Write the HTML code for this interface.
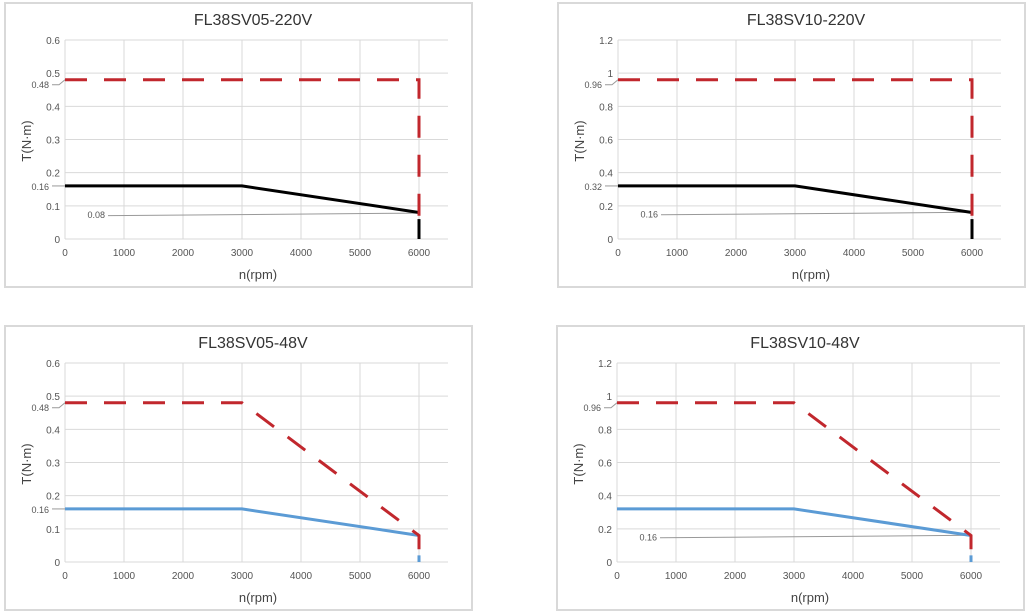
<!DOCTYPE html>
<html><head><meta charset="utf-8"><style>
html,body{margin:0;padding:0;background:#fff;width:1031px;height:614px;overflow:hidden}
svg{display:block;font-family:"Liberation Sans",sans-serif}
</style></head><body>
<svg id="s" width="1031" height="614" xmlns="http://www.w3.org/2000/svg"></svg>
<script>
const s=document.getElementById('s');let h='';
function panel(bx,by,title,ymax,ticks,red,line,lc,tail,ann,annLab,maxLab){
  const L=bx+60,X6=bx+414,T=by+37,B=by+236,R=bx+443;
  const xs=v=>L+(X6-L)*v/6000, ys=v=>B-(B-T)*v/ymax;
  h+=`<rect x="${bx}" y="${by}" width="467" height="284" fill="#fff" stroke="#d9d9d9" stroke-width="2"/>`;
  h+=`<text x="${bx+248}" y="${by+22}" font-size="16" fill="#333" text-anchor="middle">${title}</text>`;
  for(const t of ticks){const y=ys(t);h+=`<line x1="${L}" y1="${y}" x2="${R}" y2="${y}" stroke="#d9d9d9" stroke-width="1"/>`;
    h+=`<text x="${L-5}" y="${y+4}" font-size="10" fill="#555" text-anchor="end">${t}</text>`;}
  for(let i=0;i<=6;i++){const x=xs(i*1000);h+=`<line x1="${x}" y1="${T}" x2="${x}" y2="${B}" stroke="#d9d9d9" stroke-width="1"/>`;
    h+=`<text x="${x}" y="${B+17}" font-size="10" fill="#555" text-anchor="middle">${i*1000}</text>`;}
  h+=`<text x="${bx+253}" y="${by+276}" font-size="13" fill="#444" text-anchor="middle">n(rpm)</text>`;
  h+=`<text transform="translate(${bx+26},${by+138}) rotate(-90)" font-size="13" fill="#444" text-anchor="middle">T(N·m)</text>`;
  const ym=ys(red[0][1]);
  h+=`<text x="${L-16}" y="${ym+8}" font-size="9" fill="#555" text-anchor="end">${maxLab}</text>`;
  h+=`<path d="M${L-13} ${ym+5} L${L-6} ${ym+5} L${L} ${ym}" fill="none" stroke="#999" stroke-width="1"/>`;
  const yl=ys(line[0][1]);
  if(line.lab){h+=`<text x="${L-16}" y="${yl+4}" font-size="9" fill="#555" text-anchor="end">${line.lab}</text>`;
  h+=`<line x1="${L-13}" y1="${yl}" x2="${L}" y2="${yl}" stroke="#999"/>`;}
  if(ann){const ya=ys(ann);h+=`<text x="${bx+100}" y="${ya+4}" font-size="9" fill="#555" text-anchor="end">${annLab}</text>`;
    h+=`<line x1="${bx+103}" y1="${ya+1.5}" x2="${X6}" y2="${ya-1}" stroke="#999" stroke-width="1"/>`;}
  const pts=a=>a.map(p=>xs(p[0])+','+ys(p[1])).join(' ');
  h+=`<polyline points="${pts(line)}" fill="none" stroke="${lc}" stroke-width="3"/>`;
  h+=`<line x1="${X6}" y1="${ys(tail)}" x2="${X6}" y2="${B}" stroke="${lc}" stroke-width="3"/>`;
  h+=`<polyline points="${pts(red)}" fill="none" stroke="#c1272d" stroke-width="3" stroke-dasharray="22,17"/>`;
}
function L2(a,lab){a.lab=lab;return a}
panel(5,3,'FL38SV05-220V',0.6,[0,0.1,0.2,0.3,0.4,0.5,0.6],[[0,0.48],[6000,0.48],[6000,0.06]],L2([[0,0.16],[3000,0.16],[6000,0.08],[6000,0.08]],'0.16'),'#000',0.06,0.075,'0.08','0.48');
panel(558,3,'FL38SV10-220V',1.2,[0,0.2,0.4,0.6,0.8,1,1.2],[[0,0.96],[6000,0.96],[6000,0.12]],L2([[0,0.32],[3000,0.32],[6000,0.16]],'0.32'),'#000',0.12,0.155,'0.16','0.96');
panel(5,326,'FL38SV05-48V',0.6,[0,0.1,0.2,0.3,0.4,0.5,0.6],[[0,0.48],[3000,0.48],[6000,0.08],[6000,0.02]],L2([[0,0.16],[3000,0.16],[6000,0.08]],'0.16'),'#5b9bd5',0.02,null,'','0.48');
panel(557,326,'FL38SV10-48V',1.2,[0,0.2,0.4,0.6,0.8,1,1.2],[[0,0.96],[3000,0.96],[6000,0.16],[6000,0.04]],L2([[0,0.32],[3000,0.32],[6000,0.16]],''),'#5b9bd5',0.04,0.155,'0.16','0.96');
s.innerHTML=h;
</script>
</body></html>
